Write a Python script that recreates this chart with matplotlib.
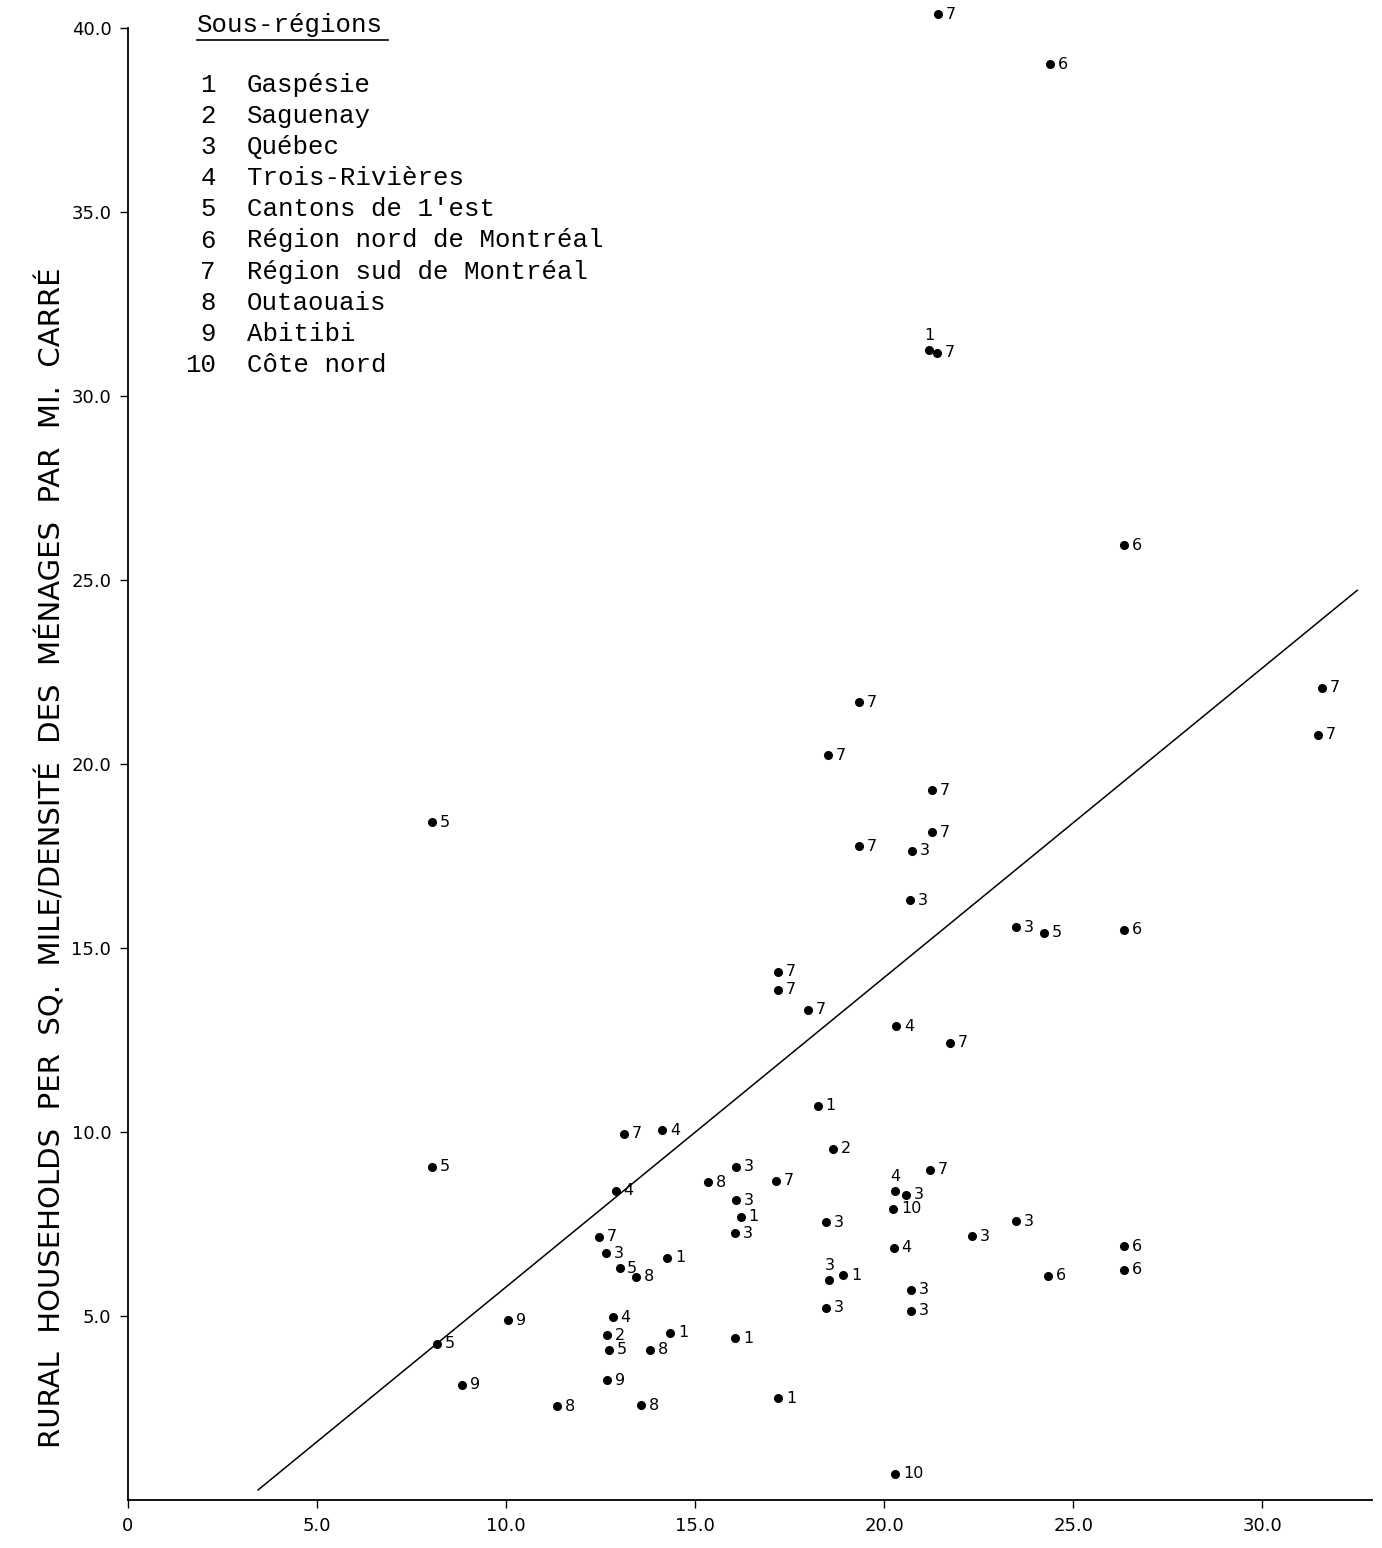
import numpy as np
import matplotlib.pyplot as plt

region = [7, 6, 1, 7, 6, 7, 7, 7, 7, 7, 7, 3, 3, 3, 5, 6, 7, 7, 7, 4, 7, 7,
          1, 7, 4, 5, 5, 2, 3, 8, 7, 3, 7, 4, 10, 3, 1, 3, 3, 7, 3, 3, 4, 6,
          6, 6, 3, 5, 8, 1, 4, 3, 1, 3, 3, 3, 4, 9, 2, 5, 8, 1, 1, 9, 9, 8,
          8, 1, 10, 5]
x_vals = [21.43, 24.39, 21.19, 21.40, 26.35, 19.34, 18.52, 21.27, 21.27, 19.34,
          31.59, 20.74, 20.69, 23.49, 24.23, 26.35, 31.48, 17.20, 17.20, 20.32,
          21.75, 17.99, 18.25, 13.12, 14.13, 8.04, 8.04, 18.65, 16.08, 15.34,
          17.14, 16.08, 21.22, 20.29, 20.24, 20.58, 16.20, 16.05, 18.47, 12.46,
          22.33, 23.49, 20.26, 26.35, 26.35, 24.34, 12.65, 13.00, 13.44, 14.26,
          12.91, 18.55, 18.92, 20.71, 20.71, 18.47, 12.83, 10.05, 12.67, 12.73,
          13.81, 14.34, 16.06, 12.67, 8.84, 11.35, 13.57, 17.20, 20.29, 8.17]
y_vals = [40.38, 39.02, 31.25, 31.17, 25.95, 21.68, 20.24, 19.29, 18.15, 17.77,
          22.07, 17.64, 16.30, 15.57, 15.41, 15.49, 20.79, 14.35, 13.86, 12.88,
          12.42, 13.32, 10.71, 9.95, 10.05, 18.42, 9.05, 9.54, 9.05, 8.64,
          8.67, 8.15, 8.97, 8.40, 7.92, 8.29, 7.70, 7.25, 7.55, 7.15,
          7.17, 7.58, 6.85, 6.90, 6.25, 6.09, 6.71, 6.30, 6.06, 6.58,
          8.40, 5.98, 6.11, 5.71, 5.14, 5.22, 4.97, 4.89, 4.48, 4.08,
          4.08, 4.54, 4.40, 3.26, 3.13, 2.55, 2.58, 2.77, 0.71, 4.24]

# fitted regression line
fit_x = [3.44, 32.51]
fit_intercept = -2.62
fit_slope = 0.841

legend_codes = ['1', '2', '3', '4', '5', '6', '7', '8', '9', '10']
legend_names = ['Gaspésie', 'Saguenay', 'Québec', 'Trois-Rivières',
                "Cantons de 1'est", 'Région nord de Montréal',
                'Région sud de Montréal', 'Outaouais', 'Abitibi', 'Côte nord']

x_ticks = [0, 5, 10, 15, 20, 25, 30]
x_ticklabels = ['0', '5.0', '10.0', '15.0', '20.0', '25.0', '30.0']
y_ticks = [5, 10, 15, 20, 25, 30, 35, 40]
y_ticklabels = ['5.0', '10.0', '15.0', '20.0', '25.0', '30.0', '35.0', '40.0']

fig = plt.figure(figsize=(13.82, 15.48), dpi=100)
ax = fig.add_axes([128 / 1382, 48 / 1548, 1244 / 1382, 1472 / 1548])

ax.plot(x_vals, y_vals, 'o', color='black', markersize=5.5, clip_on=False)

xs = np.array(x_vals)
ys = np.array(y_vals)
for i, (xv, yv, r) in enumerate(zip(x_vals, y_vals, region)):
    # a neighbour sitting right next to the dot: write the code above it instead
    dx = xs - xv
    crowded = np.any((dx > 0) & (dx < 0.4) & (np.abs(ys - yv) < 0.3))
    if crowded:
        ax.text(xv, yv + 0.2, str(r), fontsize=11.5, va='bottom', ha='center',
                clip_on=False)
    else:
        ax.text(xv + 0.2, yv, str(r), fontsize=11.5, va='center', ha='left',
                clip_on=False)

fx = np.array(fit_x)
ax.plot(fx, fit_intercept + fit_slope * fx, color='black', lw=1.1)

ax.set_xlim(0, 32.9)
ax.set_ylim(0, 40)
ax.spines['top'].set_visible(False)
ax.spines['right'].set_visible(False)
ax.spines['left'].set_linewidth(1.3)
ax.spines['bottom'].set_linewidth(1.3)
ax.set_xticks(x_ticks)
ax.set_xticklabels(x_ticklabels, fontsize=13)
ax.set_yticks(y_ticks)
ax.set_yticklabels(y_ticklabels, fontsize=13)
ax.tick_params(direction='out', length=6, width=1, pad=6)

fig.text(52 / 1382, 1 - 858 / 1548,
         'RURAL  HOUSEHOLDS  PER  SQ.  MILE/DENSITÉ  DES  MÉNAGES  PAR  MI.  CARRÉ',
         rotation=90, fontsize=21, va='center', ha='center')

# sous-region key in the upper left
mono = 'Liberation Mono'
fig.text(197 / 1382, 1 - 25 / 1548, 'Sous-régions', family=mono, fontsize=18.5,
         va='center', ha='left')
fig.add_artist(plt.Line2D([197 / 1382, 388 / 1382], [1 - 40 / 1548, 1 - 40 / 1548],
                          color='black', lw=1.2))
for i, (c, n) in enumerate(zip(legend_codes, legend_names)):
    yy = 1 - (85 + i * 31.1) / 1548
    fig.text(216 / 1382, yy, c, family=mono, fontsize=18.5, va='center', ha='right')
    fig.text(247 / 1382, yy, n, family=mono, fontsize=18.5, va='center', ha='left')

fig.savefig('out.png', dpi=100, facecolor='white')
